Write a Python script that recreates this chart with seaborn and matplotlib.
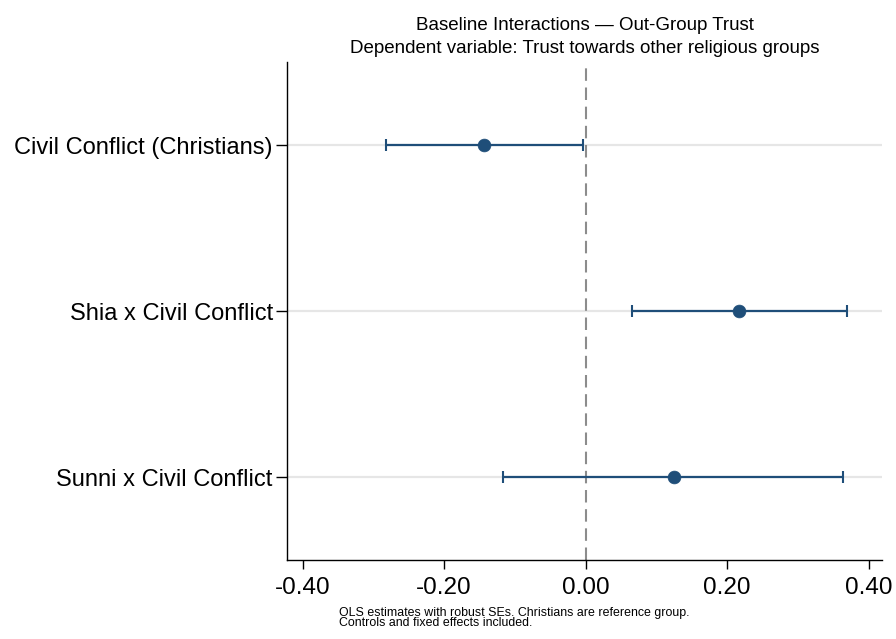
import matplotlib
matplotlib.use("Agg")
import matplotlib.pyplot as plt
import seaborn as sns
import pandas as pd
import numpy as np

categories = ["Civil Conflict (Christians)", "Shia x Civil Conflict", "Sunni x Civil Conflict"]
estimates = [-0.143, 0.217, 0.125]
ci_low = [-0.282, 0.066, -0.116]
ci_high = [-0.004, 0.370, 0.364]
xtick_values = [-0.40, -0.20, 0.00, 0.20, 0.40]
xtick_labels = ["-0.40", "-0.20", "0.00", "0.20", "0.40"]

sns.set_theme(style="white")
plt.rcParams['font.family'] = ['Liberation Sans', 'DejaVu Sans']
plt.rcParams['text.color'] = 'black'
plt.rcParams['xtick.color'] = 'black'
plt.rcParams['ytick.color'] = 'black'

df = pd.DataFrame({"term": categories, "est": estimates, "lo": ci_low, "hi": ci_high})
ypos = np.arange(len(categories))
color = "#1f4e79"

H = 639
fig = plt.figure(figsize=(8.96, 6.39), dpi=100)
ax = fig.add_axes([287/896, 1-560/H, (882-287)/896, (560-62)/H])

for y in ypos:
    ax.axhline(y, color="#e6e6e6", lw=1.6, zorder=0)
ax.axvline(0, color="#8c8c8c", lw=1.5, ls=(0, (6, 3.2)), zorder=1)

ax.errorbar(df["est"], ypos, xerr=[df["est"] - df["lo"], df["hi"] - df["est"]],
            fmt="none", ecolor=color, elinewidth=1.6, capsize=4.2, capthick=1.5, zorder=2)
sns.scatterplot(x=df["est"], y=ypos, ax=ax, color=color, s=85, edgecolor=color,
                linewidth=0.5, zorder=3, legend=False)

ax.set_xlim(-0.422, 0.419)
ax.set_ylim(2.5, -0.5)
ax.set_yticks(ypos)
ax.set_yticklabels(categories, fontsize=17)
ax.set_xticks(xtick_values)
ax.set_xticklabels(xtick_labels, fontsize=17.5)
ax.set_xlabel("")
ax.set_ylabel("")

for s in ["top", "right"]:
    ax.spines[s].set_visible(False)
for s in ["left", "bottom"]:
    ax.spines[s].set_color("black")
    ax.spines[s].set_linewidth(1.0)
ax.tick_params(axis="y", direction="out", length=8, width=1.0, left=True, pad=2.2)
ax.tick_params(axis="x", direction="out", length=6.3, width=1.0, bottom=True, pad=6)

cx = (287 + 882) / 2 / 896
fig.text(cx, 1 - 30.5/H, "Baseline Interactions \u2014 Out-Group Trust", ha="center", va="baseline", fontsize=13.5)
fig.text(cx, 1 - 52.8/H, "Dependent variable: Trust towards other religious groups", ha="center", va="baseline", fontsize=13.5)
fig.text(339/896, 1 - 616/H, "OLS estimates with robust SEs. Christians are reference group.",
         ha="left", va="baseline", fontsize=8.9)
fig.text(339/896, 1 - 626.5/H, "Controls and fixed effects included.",
         ha="left", va="baseline", fontsize=8.9)

fig.savefig("out.png", dpi=100)
